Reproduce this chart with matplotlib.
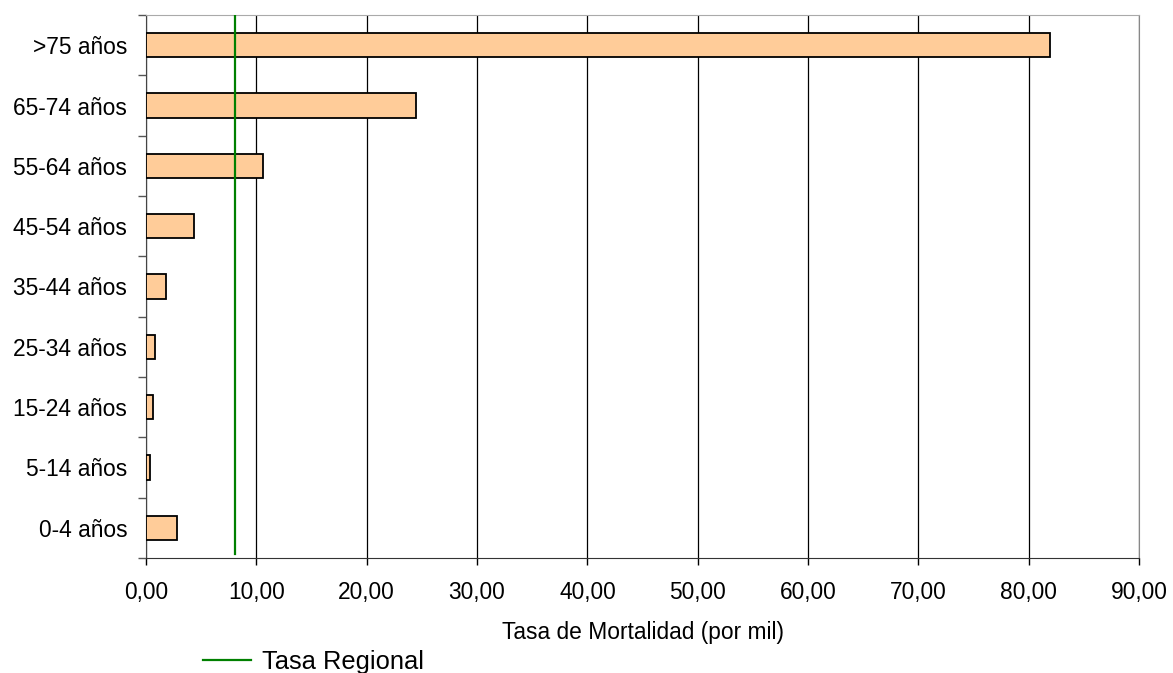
import numpy as np
import matplotlib.pyplot as plt

plt.rcParams['font.family'] = ['Liberation Sans', 'DejaVu Sans']

grupos = ['0-4 años', '5-14 años', '15-24 años', '25-34 años', '35-44 años',
          '45-54 años', '55-64 años', '65-74 años', '>75 años']
tasas = [2.84, 0.36, 0.66, 0.85, 1.84, 4.35, 10.58, 24.45, 81.95]
tasa_regional = 8.05
xticks = np.arange(0, 91, 10)

fig = plt.figure(figsize=(11.73, 6.73), dpi=100)
ax = fig.add_axes([0.1245, 0.1709, 0.8466, 0.8068])

y = np.arange(len(grupos))
ax.barh(y, tasas, height=0.4, color='#FFCC99', edgecolor='black', linewidth=1.3, zorder=3)
ax.plot([tasa_regional, tasa_regional], [-0.43, len(grupos) - 0.5], color='#008000',
        linewidth=1.6, zorder=4, label='Tasa Regional')

ax.set_xlim(0, 90)
ax.set_ylim(-0.5, len(grupos) - 0.5)
ax.set_xticks(xticks)
ax.set_xticklabels([f'{v:.2f}'.replace('.', ',') for v in xticks], fontsize=16.4)
ax.set_yticks(y)
ax.set_yticklabels(grupos, fontsize=16.4)
ax.set_yticks(np.arange(-0.5, len(grupos), 1), minor=True)
ax.tick_params(axis='y', which='major', length=0, pad=13.5)
ax.tick_params(axis='y', which='minor', length=6, width=1, direction='out', color='#555555')
ax.tick_params(axis='x', length=5, width=1, direction='out', pad=11.5)
ax.grid(axis='x', color='black', linewidth=0.9, zorder=0)

ax.spines['top'].set_color('#aaaaaa')
ax.spines['right'].set_color('#888888')
ax.spines['left'].set_color('#444444')
ax.spines['bottom'].set_color('#333333')

ax.set_xlabel('Tasa de Mortalidad (por mil)', fontsize=16.4, labelpad=12.5)

fig.legend(loc='center left', bbox_to_anchor=(0.173, 0.017), frameon=False,
           fontsize=18.4, handlelength=1.9, handletextpad=0.43,
           borderpad=0, borderaxespad=0)

fig.savefig('out.png', dpi=100)
